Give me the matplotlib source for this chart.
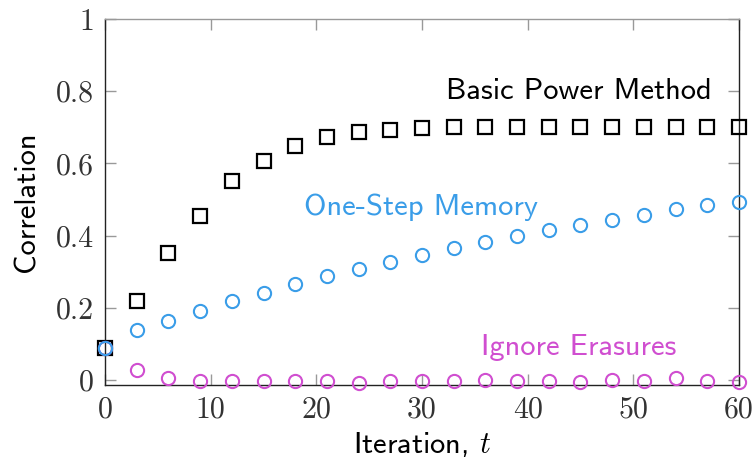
import matplotlib
matplotlib.use("Agg")
import matplotlib.pyplot as plt
import numpy as np

plt.rcParams['mathtext.fontset'] = 'cm'
plt.rcParams['axes.unicode_minus'] = False

iterations = [0, 3, 6, 9, 12, 15, 18, 21, 24, 27, 30, 33, 36, 39, 42, 45, 48, 51, 54, 57, 60]
basic_power = [0.088, 0.220, 0.351, 0.454, 0.551, 0.606, 0.649, 0.672, 0.686, 0.693, 0.699,
               0.701, 0.702, 0.702, 0.702, 0.702, 0.702, 0.702, 0.702, 0.702, 0.702]
one_step = [0.088, 0.139, 0.164, 0.192, 0.219, 0.242, 0.266, 0.288, 0.308, 0.328, 0.346,
            0.365, 0.382, 0.399, 0.415, 0.429, 0.443, 0.457, 0.473, 0.485, 0.494]
ignore_erasures = [0.088, 0.028, 0.006, -0.003, -0.004, -0.003, -0.004, -0.002, -0.008, -0.003, -0.003,
                   -0.002, 0.000, -0.003, -0.004, -0.005, -0.001, -0.003, 0.005, -0.003, -0.006]

x_ticks = [0, 10, 20, 30, 40, 50, 60]
y_ticks = [0, 0.2, 0.4, 0.6, 0.8, 1.0]
y_tick_labels = ["0", "0.2", "0.4", "0.6", "0.8", "1"]

black = "#000000"
blue = "#3a9de8"
magenta = "#d04ed0"

fig = plt.figure(figsize=(7.56, 4.62), dpi=100)
ax = fig.add_axes([0.1389, 0.1667, 0.8386, 0.7922])

ax.plot(iterations, basic_power, linestyle='none', marker='s', markersize=9.5,
        markerfacecolor='none', markeredgecolor=black, markeredgewidth=1.6, clip_on=False, zorder=3)
ax.plot(iterations, ignore_erasures, linestyle='none', marker='o', markersize=9.5,
        markerfacecolor='none', markeredgecolor=magenta, markeredgewidth=1.5, clip_on=False, zorder=4)
ax.plot(iterations, one_step, linestyle='none', marker='o', markersize=9.5,
        markerfacecolor='none', markeredgecolor=blue, markeredgewidth=1.5, clip_on=False, zorder=5)

ax.set_xlim(0, 60)
ax.set_ylim(-0.014, 1.0)
ax.set_xticks(x_ticks)
ax.set_xticklabels([str(v) for v in x_ticks], fontfamily='cmr10', fontsize=21.5, color='#333333')
ax.set_yticks(y_ticks)
ax.set_yticklabels(y_tick_labels, fontfamily='cmr10', fontsize=21.5, color='#333333')

ax.tick_params(axis='both', direction='in', length=8, width=1, color='#999999',
               top=True, right=True, pad=8)

for side in ['left', 'bottom', 'right']:
    ax.spines[side].set_color('#222222')
    ax.spines[side].set_linewidth(1.0)
ax.spines['top'].set_color('#999999')
ax.spines['top'].set_linewidth(1.0)

ax.set_xlabel(r"Iteration, $t$", fontfamily='cmss10', fontsize=22, labelpad=5)
ax.set_ylabel("Correlation", fontfamily='cmss10', fontsize=22, labelpad=11)

ax.text(57.4, 0.798, "Basic Power Method", fontfamily='cmss10', fontsize=22,
        color=black, ha='right', va='center')
ax.text(41.0, 0.479, "One-Step Memory", fontfamily='cmss10', fontsize=22,
        color=blue, ha='right', va='center')
ax.text(54.1, 0.091, "Ignore Erasures", fontfamily='cmss10', fontsize=22,
        color=magenta, ha='right', va='center')

fig.savefig("out.png", dpi=100)
